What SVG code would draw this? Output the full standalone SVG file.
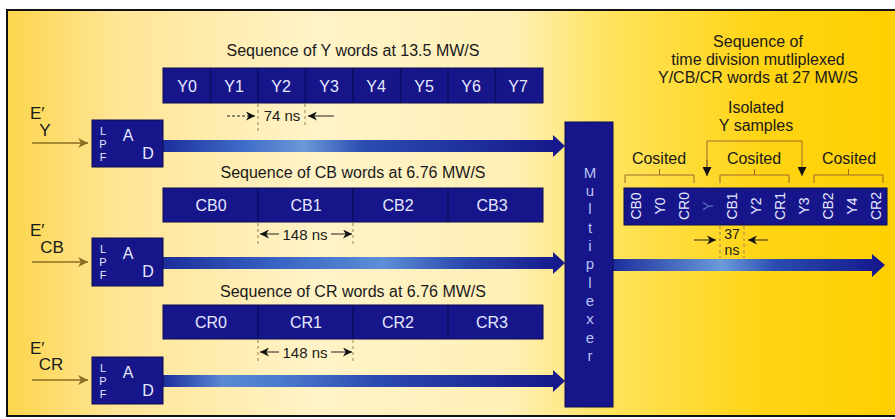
<svg xmlns="http://www.w3.org/2000/svg" width="895" height="419" viewBox="0 0 895 419">
<defs>
<linearGradient id="bg" x1="0" y1="0" x2="1" y2="0">
<stop offset="0" stop-color="#FCD64C"/>
<stop offset="0.12" stop-color="#FFE594"/>
<stop offset="0.35" stop-color="#FFF3C8"/>
<stop offset="0.57" stop-color="#FFF0B6"/>
<stop offset="0.68" stop-color="#FFE35C"/>
<stop offset="0.85" stop-color="#FFD414"/>
<stop offset="1" stop-color="#FFD000"/>
</linearGradient>
<linearGradient id="barY" x1="0" y1="0" x2="1" y2="0">
<stop offset="0" stop-color="#1C2E9C"/>
<stop offset="0.2" stop-color="#3F6CC8"/>
<stop offset="0.35" stop-color="#6A98D8"/>
<stop offset="0.5" stop-color="#2A4CB0"/>
<stop offset="1" stop-color="#15168A"/>
</linearGradient>
<linearGradient id="barCB" x1="0" y1="0" x2="1" y2="0">
<stop offset="0" stop-color="#1C2E9C"/>
<stop offset="0.3" stop-color="#3A66C4"/>
<stop offset="0.55" stop-color="#5E8ED6"/>
<stop offset="0.75" stop-color="#2A48AE"/>
<stop offset="1" stop-color="#15168A"/>
</linearGradient>
<linearGradient id="barCR" x1="0" y1="0" x2="1" y2="0">
<stop offset="0" stop-color="#1C2E9C"/>
<stop offset="0.15" stop-color="#5A8AD4"/>
<stop offset="0.3" stop-color="#4A78CC"/>
<stop offset="0.55" stop-color="#2A48AE"/>
<stop offset="1" stop-color="#15168A"/>
</linearGradient>
<linearGradient id="barOut" x1="0" y1="0" x2="1" y2="0">
<stop offset="0" stop-color="#1C2E9C"/>
<stop offset="0.4" stop-color="#6A9ADA"/>
<stop offset="0.6" stop-color="#2A4CB0"/>
<stop offset="1" stop-color="#15168A"/>
</linearGradient>
<marker id="inArr" viewBox="0 0 10 10" refX="10" refY="5" markerWidth="10" markerHeight="10" markerUnits="userSpaceOnUse" orient="auto">
<path d="M0,0 L10,5 L0,10 L3,5 Z" fill="#8A6E22"/>
</marker>
<marker id="dimArr" viewBox="0 0 10 10" refX="10" refY="5" markerWidth="9" markerHeight="9" markerUnits="userSpaceOnUse" orient="auto">
<path d="M0,0 L10,5 L0,10 L3,5 Z" fill="#111"/>
</marker>
<marker id="downArr" viewBox="0 0 10 10" refX="5" refY="10" markerWidth="9" markerHeight="9" markerUnits="userSpaceOnUse" orient="0">
<path d="M0,0 L10,0 L5,10 Z" fill="#111"/>
</marker>
</defs>
<style>
text{font-family:"Liberation Sans","Arial",sans-serif;}
.t{font-size:16px;fill:#1a1a1a;text-anchor:middle;}
.cell{font-size:16px;fill:#E6E8FF;text-anchor:middle;}
.vcell{font-size:14px;fill:#E6E8FF;text-anchor:middle;}
.box{fill:#16168A;stroke:#0B0B55;stroke-width:1;}
.div{stroke:#0C0C60;stroke-width:1.5;}
.lpf{font-size:11px;fill:#E6E8FF;text-anchor:middle;}
.ad{font-size:16px;fill:#E6E8FF;text-anchor:middle;}
.in{stroke:#8A6E22;stroke-width:1.6;fill:none;}
.dash{stroke:#9A8050;stroke-width:1;stroke-dasharray:3,3;fill:none;}
.dim{stroke:#222;stroke-width:1;fill:none;}
.brk{stroke:#9A6A30;stroke-width:1;fill:none;}
.mux{font-size:15px;fill:#B8C2F2;text-anchor:middle;}
.lab{font-size:17px;fill:#1a1a1a;}
.dimt{font-size:15px;fill:#1a1a1a;text-anchor:middle;}
</style>
<rect x="0" y="0" width="895" height="419" fill="#FFFFFF"/>
<rect x="7" y="10" width="888" height="406" fill="url(#bg)"/>
<path d="M895,10 L7,10 L7,416 L895,416" fill="none" stroke="#111" stroke-width="2"/>

<g id="connectors">
<line class="in" x1="32" y1="143" x2="88" y2="143" marker-end="url(#inArr)"/>
<line class="in" x1="32" y1="262" x2="88" y2="262" marker-end="url(#inArr)"/>
<line class="in" x1="32" y1="380" x2="88" y2="380" marker-end="url(#inArr)"/>
<path d="M163,140 L553,140 L553,135 L565,146 L553,157 L553,152 L163,152 Z" fill="url(#barY)"/>
<path d="M163,257 L553,257 L553,252 L565,263 L553,274 L553,269 L163,269 Z" fill="url(#barCB)"/>
<path d="M163,375 L553,375 L553,370 L565,381 L553,392 L553,387 L163,387 Z" fill="url(#barCR)"/>
<path d="M613,259 L872,259 L872,254 L885,265 L872,277 L872,271 L613,271 Z" fill="url(#barOut)"/>
</g>

<g id="labels-inputs">
<text class="lab" x="30" y="119">E′</text>
<text class="lab" x="45" y="136" text-anchor="middle">Y</text>
<text class="lab" x="30" y="236">E′</text>
<text class="lab" x="52" y="253" text-anchor="middle">CB</text>
<text class="lab" x="30" y="354">E′</text>
<text class="lab" x="51" y="370" text-anchor="middle">CR</text>
</g>

<g id="adc-y">
<rect class="box" x="92" y="120" width="71" height="47"/>
<text class="lpf" x="103" y="135">L</text>
<text class="lpf" x="103" y="148">P</text>
<text class="lpf" x="103" y="161">F</text>
<text class="ad" x="128" y="141">A</text>
<text class="ad" x="148" y="159">D</text>
</g>
<g id="adc-cb">
<rect class="box" x="92" y="238" width="71" height="48"/>
<text class="lpf" x="103" y="253">L</text>
<text class="lpf" x="103" y="266">P</text>
<text class="lpf" x="103" y="279">F</text>
<text class="ad" x="128" y="259">A</text>
<text class="ad" x="148" y="277">D</text>
</g>
<g id="adc-cr">
<rect class="box" x="92" y="357" width="71" height="47"/>
<text class="lpf" x="103" y="372">L</text>
<text class="lpf" x="103" y="385">P</text>
<text class="lpf" x="103" y="398">F</text>
<text class="ad" x="128" y="378">A</text>
<text class="ad" x="148" y="396">D</text>
</g>

<g id="seq-y">
<text class="t" x="353" y="56">Sequence of Y words at 13.5 MW/S</text>
<rect class="box" x="163" y="68" width="380" height="35"/>
<g class="div">
<line x1="210.5" y1="68" x2="210.5" y2="103"/><line x1="258" y1="68" x2="258" y2="103"/>
<line x1="305.5" y1="68" x2="305.5" y2="103"/><line x1="353" y1="68" x2="353" y2="103"/>
<line x1="400.5" y1="68" x2="400.5" y2="103"/><line x1="448" y1="68" x2="448" y2="103"/>
<line x1="495.5" y1="68" x2="495.5" y2="103"/>
</g>
<text class="cell" x="187" y="92">Y0</text>
<text class="cell" x="234" y="92">Y1</text>
<text class="cell" x="281" y="92">Y2</text>
<text class="cell" x="329" y="92">Y3</text>
<text class="cell" x="376" y="92">Y4</text>
<text class="cell" x="424" y="92">Y5</text>
<text class="cell" x="471" y="92">Y6</text>
<text class="cell" x="518" y="92">Y7</text>
<line class="dash" x1="258" y1="104" x2="258" y2="134"/>
<line class="dash" x1="305" y1="104" x2="305" y2="128"/>
<line class="dim" x1="227" y1="116" x2="255" y2="116" stroke-dasharray="3,2" marker-end="url(#dimArr)"/>
<text class="dimt" x="282" y="121">74 ns</text>
<line class="dim" x1="334" y1="116" x2="308" y2="116" marker-end="url(#dimArr)"/>
</g>

<g id="seq-cb">
<text class="t" x="353" y="178">Sequence of CB words at 6.76 MW/S</text>
<rect class="box" x="163" y="188" width="380" height="34"/>
<g class="div">
<line x1="258" y1="188" x2="258" y2="222"/><line x1="353" y1="188" x2="353" y2="222"/><line x1="448" y1="188" x2="448" y2="222"/>
</g>
<text class="cell" x="211" y="211">CB0</text>
<text class="cell" x="306" y="211">CB1</text>
<text class="cell" x="398" y="211">CB2</text>
<text class="cell" x="492" y="211">CB3</text>
<line class="dash" x1="258" y1="223" x2="258" y2="247"/>
<line class="dash" x1="353" y1="223" x2="353" y2="247"/>
<line class="dim" x1="279" y1="234" x2="260" y2="234" marker-end="url(#dimArr)"/>
<text class="dimt" x="305" y="240">148 ns</text>
<line class="dim" x1="331" y1="234" x2="352" y2="234" marker-end="url(#dimArr)"/>
</g>

<g id="seq-cr">
<text class="t" x="353" y="297">Sequence of CR words at 6.76 MW/S</text>
<rect class="box" x="163" y="305" width="380" height="34"/>
<g class="div">
<line x1="258" y1="305" x2="258" y2="339"/><line x1="353" y1="305" x2="353" y2="339"/><line x1="448" y1="305" x2="448" y2="339"/>
</g>
<text class="cell" x="211" y="328">CR0</text>
<text class="cell" x="306" y="328">CR1</text>
<text class="cell" x="398" y="328">CR2</text>
<text class="cell" x="492" y="328">CR3</text>
<line class="dash" x1="258" y1="340" x2="258" y2="364"/>
<line class="dash" x1="353" y1="340" x2="353" y2="364"/>
<line class="dim" x1="279" y1="352" x2="260" y2="352" marker-end="url(#dimArr)"/>
<text class="dimt" x="305" y="358">148 ns</text>
<line class="dim" x1="331" y1="352" x2="352" y2="352" marker-end="url(#dimArr)"/>
</g>

<g id="multiplexer">
<rect class="box" x="565" y="122" width="48" height="285"/>
<text class="mux" x="590" y="178">M</text>
<text class="mux" x="590" y="196">u</text>
<text class="mux" x="590" y="214">l</text>
<text class="mux" x="590" y="233">t</text>
<text class="mux" x="590" y="251">i</text>
<text class="mux" x="590" y="269">p</text>
<text class="mux" x="590" y="288">l</text>
<text class="mux" x="590" y="306">e</text>
<text class="mux" x="590" y="324">x</text>
<text class="mux" x="590" y="343">e</text>
<text class="mux" x="590" y="361">r</text>
</g>

<g id="tdm-title">
<text class="t" x="758" y="47">Sequence of</text>
<text class="t" x="758" y="65">time division mutliplexed</text>
<text class="t" x="758" y="83">Y/CB/CR words at 27 MW/S</text>
<text class="t" x="756" y="113">Isolated</text>
<text class="t" x="756" y="131">Y samples</text>
</g>

<g id="tdm-brackets">
<path class="brk" d="M707,176 L707,141 L802,141 L802,176" stroke="#8A6A30" stroke-width="1.2" marker-end="url(#downArr)"/>
<line x1="707" y1="160" x2="707" y2="176" stroke="#8A6A30" stroke-width="1.2" marker-end="url(#downArr)"/>
<text class="t" x="659" y="164">Cosited</text>
<text class="t" x="754" y="164">Cosited</text>
<text class="t" x="849" y="164">Cosited</text>
<path class="brk" d="M625,183 L625,175 L694,175 L694,183 M659.5,175 L659.5,169"/>
<path class="brk" d="M720,183 L720,175 L789,175 L789,183 M754.5,175 L754.5,169"/>
<path class="brk" d="M814,183 L814,175 L883,175 L883,183 M848.5,175 L848.5,169"/>
</g>

<g id="tdm-sequence">
<rect class="box" x="624" y="188" width="263" height="37" stroke="#0A0A40" stroke-width="1.5"/>
<g transform="translate(636,206) rotate(-90)"><text class="vcell" x="0" y="5">CB0</text></g>
<g transform="translate(660,206) rotate(-90)"><text class="vcell" x="0" y="5">Y0</text></g>
<g transform="translate(684,206) rotate(-90)"><text class="vcell" x="0" y="5">CR0</text></g>
<g transform="translate(708,206) rotate(-90)"><text class="vcell" x="0" y="5" style="fill:#5A66C0">Y</text></g>
<g transform="translate(732,206) rotate(-90)"><text class="vcell" x="0" y="5">CB1</text></g>
<g transform="translate(756,206) rotate(-90)"><text class="vcell" x="0" y="5">Y2</text></g>
<g transform="translate(780,206) rotate(-90)"><text class="vcell" x="0" y="5">CR1</text></g>
<g transform="translate(804,206) rotate(-90)"><text class="vcell" x="0" y="5">Y3</text></g>
<g transform="translate(828,206) rotate(-90)"><text class="vcell" x="0" y="5">CB2</text></g>
<g transform="translate(852,206) rotate(-90)"><text class="vcell" x="0" y="5">Y4</text></g>
<g transform="translate(876,206) rotate(-90)"><text class="vcell" x="0" y="5">CR2</text></g>
<line class="dash" x1="720" y1="226" x2="720" y2="258" stroke="#6A5A20"/>
<line class="dash" x1="744" y1="226" x2="744" y2="258" stroke="#6A5A20"/>
<line class="dim" x1="694" y1="240" x2="716" y2="240" marker-end="url(#dimArr)"/>
<line class="dim" x1="768" y1="240" x2="748" y2="240" marker-end="url(#dimArr)"/>
<text class="dimt" x="732" y="239" style="font-size:14px">37</text>
<text class="dimt" x="732" y="255" style="font-size:14px">ns</text>
</g>
</svg>
